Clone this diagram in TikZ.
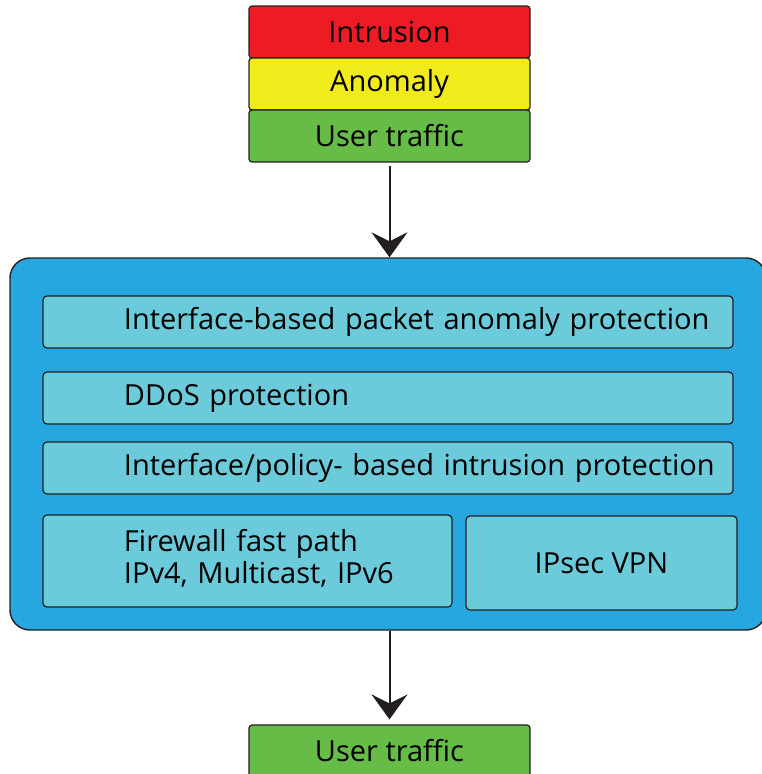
\documentclass[tikz,border=0pt]{standalone}
\usepackage{fontspec}
\setmainfont{Open Sans}
\usetikzlibrary{arrows.meta}
\definecolor{cRed}{RGB}{237,28,36}
\definecolor{cYellow}{RGB}{242,235,27}
\definecolor{cGreen}{RGB}{103,187,71}
\definecolor{cBlue}{RGB}{39,167,223}
\definecolor{cCyan}{RGB}{108,203,219}
\definecolor{cLine}{RGB}{35,31,32}
\tikzset{
  stackbox/.style={draw=cLine, line width=1.2pt, rounded corners=3pt, minimum width=281pt, minimum height=52pt, inner sep=0pt},
  rowbox/.style={draw=cLine, line width=1.2pt, rounded corners=4pt, fill=cCyan, inner xsep=0pt, inner ysep=0pt, align=left},
  flow/.style={draw=cLine, line width=2pt, -{Stealth[length=25pt,width=36pt,inset=9pt]}},
}
\begin{document}
\begin{tikzpicture}[x=1pt,y=-1pt,font=\fontsize{29}{32}\selectfont]
\useasboundingbox (0,0) rectangle (762,774);
% top stack
\node[stackbox, fill=cRed] (intr) at (389.5,32) {Intrusion};
\node[stackbox, fill=cYellow] (anom) at (389.5,84) {Anomaly};
\node[stackbox, fill=cGreen] (utop) at (389.5,136) {User traffic};
% core box
\node[draw=cLine, line width=1.4pt, rounded corners=20pt, fill=cBlue, minimum width=756pt, minimum height=372pt, inner sep=0pt] (core) at (388,444) {};
% rows
\node[rowbox, text width=690pt, minimum height=52pt] (r1) at (388,322) {\hspace*{81pt}Interface-based packet anomaly protection};
\node[rowbox, text width=690pt, minimum height=52pt] (r2) at (388,398) {\hspace*{81pt}DDoS protection};
\node[rowbox, text width=690pt, minimum height=52pt] (r3) at (388,468) {\hspace*{81pt}Interface/policy- based intrusion protection};
\node[rowbox, text width=409pt, minimum height=92pt] (r4) at (247.5,561) {\hspace*{81pt}\begin{tabular}{@{}l@{}}Firewall fast path\\IPv4, Multicast, IPv6\end{tabular}};
\node[draw=cLine, line width=1.2pt, rounded corners=4pt, fill=cCyan, minimum width=271pt, minimum height=94pt, inner sep=0pt] (vpn) at (601.5,563) {IPsec VPN};
% bottom
\node[stackbox, fill=cGreen] (ubot) at (389.5,751) {User traffic};
% arrows
\draw[flow, shorten <=3pt] (utop.south) -- (utop.south |- core.north);
\draw[flow, shorten >=5pt] (core.south -| ubot.north) -- (ubot.north);
\end{tikzpicture}
\end{document}
